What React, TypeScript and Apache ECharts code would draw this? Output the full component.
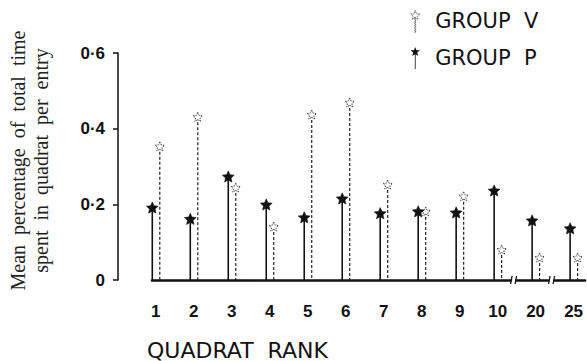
import React, { useEffect, useRef } from "react";
import * as echarts from "echarts";

const rankLabels = ["1", "2", "3", "4", "5", "6", "7", "8", "9", "10", "20", "25"];
const rankPositions = [1, 2, 3, 4, 5, 6, 7, 8, 9, 10, 11, 12];
const groupP = [0.19, 0.16, 0.272, 0.198, 0.164, 0.214, 0.175, 0.18, 0.177, 0.235, 0.156, 0.135];
const groupV = [0.352, 0.43, 0.243, 0.14, 0.436, 0.468, 0.251, 0.18, 0.22, 0.079, 0.058, 0.058];
const breakPositions = [10.42, 11.42];
const yTicks = [0, 0.2, 0.4, 0.6];

const STAR_ICON =
  "path://M5 0 L6.23 3.3 L9.76 3.45 L7 5.65 L7.94 9.05 L5 7.1 L2.06 9.05 L3 5.65 L0.24 3.45 L3.77 3.3 Z M4.6 7 L5.4 7 L5.4 22 L4.6 22 Z";

function starPoints(cx: number, cy: number, R: number, r: number) {
  const pts: number[][] = [];
  for (let k = 0; k < 10; k++) {
    const ang = ((-90 + k * 36) * Math.PI) / 180;
    const rad = k % 2 === 0 ? R : r;
    pts.push([cx + rad * Math.cos(ang), cy + rad * Math.sin(ang)]);
  }
  return pts;
}

function stemSeries(name: string, values: number[], dx: number, hollow: boolean) {
  return {
    type: "custom",
    name,
    data: rankPositions.map((p, i) => [p, values[i]]),
    encode: { x: 0, y: 1 },
    z: 3,
    renderItem: (params: any, api: any) => {
      const x = api.value(0);
      const y = api.value(1);
      const top = api.coord([x, y]);
      const base = api.coord([x, 0]);
      const px = top[0] + dx;
      return {
        type: "group",
        children: [
          {
            type: "line",
            shape: { x1: px, y1: top[1], x2: px, y2: base[1] },
            style: hollow
              ? { stroke: "#222", lineWidth: 1.2, lineDash: [3, 2] }
              : { stroke: "#111", lineWidth: 1.6 },
          },
          {
            type: "polygon",
            shape: { points: starPoints(px, top[1], hollow ? 5 : 6.2, hollow ? 2.3 : 2.9) },
            style: hollow
              ? { fill: "#fff", stroke: "#333", lineWidth: 0.9, lineDash: [1.5, 1] }
              : { fill: "#111", stroke: "#111", lineWidth: 0.6 },
          },
        ],
      };
    },
  };
}

export default function App() {
  const ref = useRef<HTMLDivElement>(null);
  useEffect(() => {
    if (!ref.current) return;
    const chart = echarts.init(ref.current, null, { renderer: "svg" });
    chart.setOption({
      animation: false,
      backgroundColor: "#fff",
      grid: { left: 152, right: 2, top: 53, bottom: 81, outerBoundsMode: "none" },
      legend: {
        orient: "vertical",
        left: 405,
        top: 5,
        itemWidth: 30,
        itemHeight: 22,
        itemGap: 14,
        symbolKeepAspect: true,
        formatter: (n: string) => n.replace(" ", "  "),
        textStyle: { fontFamily: "DejaVu Sans", fontSize: 21, color: "#111" },
        data: [
          {
            name: "GROUP V",
            icon: STAR_ICON,
            itemStyle: { color: "#fff", borderColor: "#333", borderWidth: 0.9, borderType: "dotted" },
          },
          { name: "GROUP P", icon: STAR_ICON, itemStyle: { color: "#111", borderWidth: 0 } },
        ],
      },
      xAxis: {
        type: "value",
        min: 0.9,
        max: 12.3,
        splitLine: { show: false },
        axisTick: { show: false },
        axisLine: { show: true, onZero: false, lineStyle: { color: "#111", width: 2.5 } },
        axisLabel: {
          customValues: rankPositions,
          formatter: (v: number) => rankLabels[Math.round(v) - 1] ?? "",
          fontFamily: "Liberation Sans",
          fontWeight: "bold",
          fontSize: 17,
          color: "#111",
          margin: 23,
        },
        name: "QUADRAT  RANK",
        nameLocation: "middle",
        nameGap: 59,
        nameTextStyle: {
          fontFamily: "DejaVu Sans",
          fontSize: 22,
          color: "#111",
          padding: [0, 262, 0, 0],
        },
      },
      yAxis: {
        type: "value",
        min: 0,
        max: 0.6,
        interval: 0.2,
        offset: 34,
        splitLine: { show: false },
        axisLine: { show: true, lineStyle: { color: "#111", width: 1.5 } },
        axisTick: { show: true, length: 5, lineStyle: { color: "#111", width: 1.5 } },
        axisLabel: {
          customValues: yTicks,
          formatter: (v: number) => (v === 0 ? "0" : v.toFixed(1).replace(".", "\u00b7")),
          fontFamily: "Liberation Sans",
          fontWeight: "bold",
          fontSize: 17,
          color: "#111",
          margin: 13,
        },
        name: "Mean  percentage  of  total  time\nspent  in  quadrat  per  entry",
        nameLocation: "middle",
        nameGap: 66,
        nameTextStyle: {
          fontFamily: "Liberation Serif",
          fontSize: 20,
          lineHeight: 23,
          color: "#222",
          padding: [0, 0, 0, 12],
        },
      },
      series: [
        stemSeries("GROUP V", groupV, 4, true),
        stemSeries("GROUP P", groupP, -3.5, false),
        {
          type: "custom",
          name: "breaks",
          data: breakPositions.map((b) => [b, 0]),
          encode: { x: 0, y: 1 },
          z: 4,
          renderItem: (params: any, api: any) => {
            const c = api.coord([api.value(0), 0]);
            return {
              type: "group",
              children: [
                { type: "rect", shape: { x: c[0] - 2, y: c[1] - 3, width: 4, height: 6 }, style: { fill: "#fff" } },
                { type: "line", shape: { x1: c[0] - 3, y1: c[1] + 4, x2: c[0] - 1.5, y2: c[1] - 4 }, style: { stroke: "#111", lineWidth: 1.3 } },
                { type: "line", shape: { x1: c[0] + 1.5, y1: c[1] + 4, x2: c[0] + 3, y2: c[1] - 4 }, style: { stroke: "#111", lineWidth: 1.3 } },
              ],
            };
          },
        },
      ],
    });
    return () => chart.dispose();
  }, []);
  return (
    <div
      ref={ref}
      style={{ position: "fixed", left: 0, top: 0, width: 587, height: 361, background: "#fff" }}
    />
  );
}
